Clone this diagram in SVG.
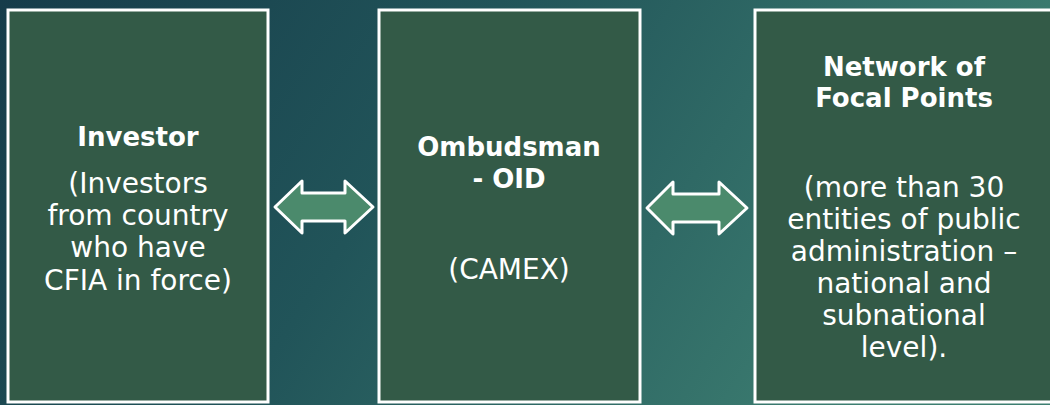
<svg xmlns="http://www.w3.org/2000/svg" width="1050" height="405" viewBox="0 0 1050 405">
  <defs>
    <linearGradient id="bg" x1="0" y1="0" x2="1" y2="0.25">
      <stop offset="0" stop-color="#163c4a"/>
      <stop offset="0.45" stop-color="#215459"/>
      <stop offset="1" stop-color="#3d7e71"/>
    </linearGradient>
  </defs>
  <style>
    .box { fill: #335a47; stroke: #ffffff; stroke-width: 3; }
    .arrow { fill: #4b8a6c; stroke: #ffffff; stroke-width: 3; stroke-linejoin: round; }
    .hd { font-family: "DejaVu Sans", sans-serif; font-weight: bold; font-size: 26px; fill: #ffffff; text-anchor: middle; }
    .bd { font-family: "DejaVu Sans", sans-serif; font-size: 28px; fill: #ffffff; text-anchor: middle; }
  </style>
  <rect x="0" y="0" width="1050" height="405" fill="url(#bg)"/>
  <g id="connectors">
    <path class="arrow" d="M275,207 L302,181 L302,193 L345,193 L345,181 L373,207 L345,233 L345,221 L302,221 L302,233 Z"/>
    <path class="arrow" d="M647,208 L673,182 L673,194 L719,194 L719,182 L747,208 L719,234 L719,222 L673,222 L673,234 Z"/>
  </g>
  <g id="investor">
    <rect class="box" x="8" y="10" width="260" height="392"/>
    <text class="hd" x="138" y="146">Investor</text>
    <text class="bd" x="138" y="193">(Investors</text>
    <text class="bd" x="138" y="225">from country</text>
    <text class="bd" x="138" y="257">who have</text>
    <text class="bd" x="138" y="290">CFIA in force)</text>
  </g>
  <g id="ombudsman">
    <rect class="box" x="379" y="10" width="261" height="392"/>
    <text class="hd" x="509" y="156">Ombudsman</text>
    <text class="hd" x="509" y="188">- OID</text>
    <text class="bd" x="509" y="279">(CAMEX)</text>
  </g>
  <g id="focal-points">
    <rect class="box" x="755" y="10" width="300" height="392"/>
    <text class="hd" x="904" y="76">Network of</text>
    <text class="hd" x="904" y="107">Focal Points</text>
    <text class="bd" x="904" y="197">(more than 30</text>
    <text class="bd" x="904" y="229">entities of public</text>
    <text class="bd" x="904" y="261">administration –</text>
    <text class="bd" x="904" y="293">national and</text>
    <text class="bd" x="904" y="325">subnational</text>
    <text class="bd" x="904" y="357">level).</text>
  </g>
</svg>
